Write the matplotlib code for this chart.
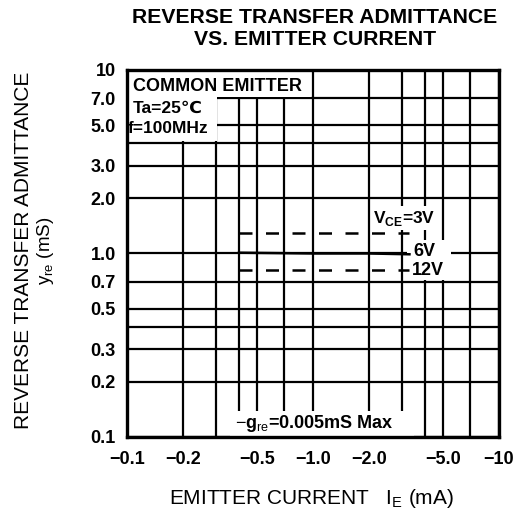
import matplotlib
matplotlib.use('Agg')
import matplotlib.pyplot as plt
from matplotlib.patches import Rectangle
from matplotlib.ticker import FixedLocator, FixedFormatter, NullFormatter
import numpy as np

# Fuentes
plt.rcParams['font.family'] = ['Liberation Sans', 'DejaVu Sans']
plt.rcParams['mathtext.fontset'] = 'custom'
plt.rcParams['mathtext.rm'] = 'Liberation Sans'
plt.rcParams['mathtext.bf'] = 'Liberation Sans:bold'

# Datos (IE en mA, yre en mS)
ie_ma = [-0.4, -1.0, -2.0, -3.3]
yre_3v = [1.29, 1.29, 1.29, 1.29]
yre_6v = [1.01, 1.0, 1.0, 0.99]
yre_12v = [0.81, 0.81, 0.81, 0.81]
curvas = ['3V', '6V', '12V']

x_ticks = [0.1, 0.2, 0.5, 1.0, 2.0, 5.0, 10]
x_labels = ['\u22120.1', '\u22120.2', '\u22120.5', '\u22121.0', '\u22122.0', '\u22125.0', '\u221210']
x_minor = [0.3, 0.4, 0.7, 3, 4, 7]
y_ticks = [0.1, 0.2, 0.3, 0.5, 0.7, 1, 2, 3, 5, 7, 10]
y_labels = ['0.1', '0.2', '0.3', '0.5', '0.7', '1.0', '2.0', '3.0', '5.0', '7.0', '10']
y_minor = [0.4, 4]

fig = plt.figure(figsize=(5.19, 5.15), dpi=100)
ax = fig.add_axes([0.2447, 0.1515, 0.7168, 0.7126])
ax.set_xscale('log')
ax.set_yscale('log')
ax.set_xlim(0.1, 10)
ax.set_ylim(0.1, 10)

ax.xaxis.set_major_locator(FixedLocator(x_ticks))
ax.xaxis.set_major_formatter(FixedFormatter(x_labels))
ax.xaxis.set_minor_locator(FixedLocator(x_minor))
ax.xaxis.set_minor_formatter(NullFormatter())
ax.yaxis.set_major_locator(FixedLocator(y_ticks))
ax.yaxis.set_major_formatter(FixedFormatter(y_labels))
ax.yaxis.set_minor_locator(FixedLocator(y_minor))
ax.yaxis.set_minor_formatter(NullFormatter())

ax.tick_params(which='both', length=0)
ax.tick_params(axis='x', pad=10, labelsize=13)
ax.tick_params(axis='y', pad=8, labelsize=13)
for lab in ax.get_xticklabels() + ax.get_yticklabels():
    lab.set_fontweight('bold')

ax.set_axisbelow(True)
ax.grid(which='both', color='black', lw=1.6)
for sp in ax.spines.values():
    sp.set_linewidth(2.4)

# huecos blancos donde van los textos
blancos = [((0.1, 7.15), 0.97, 10), ((0.1, 4.1), 0.305, 7.3),
           ((0.36, 0.1), 3.5, 0.138), ((3.2, 0.72), 5.5, 1.18)]
for (x0, y0), x1, y1 in blancos:
    ax.add_patch(Rectangle((x0, y0), x1 - x0, y1 - y0, facecolor='white',
                           edgecolor='none', zorder=1))

x = -np.array(ie_ma)
ax.plot(x, yre_3v, color='black', lw=1.8, dashes=(5.2, 5.4), zorder=3)
ax.plot(x, yre_6v, color='black', lw=1.8, zorder=3)
ax.plot(x, yre_12v, color='black', lw=1.8, dashes=(5.2, 5.4), zorder=3)

ax.text(0.108, 8.08, 'COMMON EMITTER', fontsize=13, fontweight='bold', va='center', zorder=4)
ax.text(0.108, 6.21, 'Ta=25\u2103', fontsize=12.5, fontweight='bold', va='center', zorder=4)
ax.text(0.1015, 4.77, 'f=100MHz', fontsize=12.5, fontweight='bold', va='center', zorder=4)

ax.text(2.1, 1.56, r'V$_{\bf CE}$=' + curvas[0], fontsize=12.5, fontweight='bold', va='center',
        zorder=4, bbox=dict(facecolor='white', edgecolor='none', pad=1.5))
ax.text(3.45, 1.03, curvas[1], fontsize=13, fontweight='bold', va='center', zorder=4)
ax.text(3.42, 0.81, curvas[2], fontsize=13, fontweight='bold', va='center', zorder=4)

ax.text(0.381, 0.119, r'$-$g$_{\rm re}$=0.005mS Max', fontsize=13, fontweight='bold',
        va='center', zorder=4)

fig.text(0.607, 0.9447, 'REVERSE TRANSFER ADMITTANCE\nVS. EMITTER CURRENT', fontsize=15.2,
         fontweight='bold', ha='center', va='center', linespacing=1.15)
fig.text(24 / 519, 1 - 250 / 515, 'REVERSE TRANSFER ADMITTANCE', fontsize=15,
         rotation=90, ha='center', va='center')
fig.text(46 / 519, 1 - 251 / 515, r'y$_{\rm re}$ (mS)', fontsize=13.5,
         rotation=90, ha='center', va='center')
fig.text(0.6, 0.033, r'EMITTER CURRENT   I$_{\rm E}$ (mA)', fontsize=15,
         ha='center', va='center')

fig.savefig('out.png', dpi=100)
